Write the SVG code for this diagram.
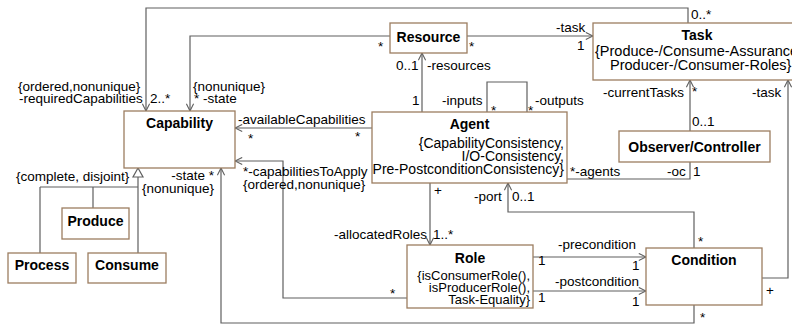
<svg xmlns="http://www.w3.org/2000/svg" width="792" height="325" viewBox="0 0 792 325">
  <style>
    .box { fill: #ffffff; stroke: #9c7d60; stroke-width: 1.3; }
    .title { font-family: "Liberation Sans", Arial, sans-serif; font-size: 14px; font-weight: bold; fill: #000; text-anchor: middle; }
    .cons { font-family: "Liberation Sans", Arial, sans-serif; font-size: 13px; fill: #000; text-anchor: end; }
    .lbl { font-family: "Liberation Sans", Arial, sans-serif; font-size: 13.5px; fill: #000; }
    .end { text-anchor: end; }
    .conn { fill: none; stroke: #5f5f5f; stroke-width: 1.2; }
  </style>
  <defs>
    <marker id="open" viewBox="0 0 10 10" refX="9" refY="5" markerWidth="9" markerHeight="9" markerUnits="userSpaceOnUse" orient="auto">
      <path d="M1,1 L9,5 L1,9" fill="none" stroke="#5f5f5f" stroke-width="1.2"/>
    </marker>
  </defs>
  <rect width="792" height="325" fill="#ffffff"/>

  <!-- associations -->
  <g id="connectors">
    <polyline class="conn" points="688,23 688,8 146,8 146,111" marker-end="url(#open)"/>
    <polyline class="conn" points="390,36 190,36 190,111" marker-end="url(#open)"/>
    <polyline class="conn" points="467,36 593,36" marker-end="url(#open)"/>
    <polyline class="conn" points="422,112 422,53" marker-end="url(#open)"/>
    <polyline class="conn" points="487,112 487,82 527,82 527,112"/>
    <polyline class="conn" points="372,128 235,128" marker-end="url(#open)"/>
    <polyline class="conn" points="407,298 283,298 283,161 235,161" marker-end="url(#open)"/>
    <polyline class="conn" points="694,305 694,323 221,323 221,168" marker-end="url(#open)"/>
    <polyline class="conn" points="430,183 430,245" marker-end="url(#open)"/>
    <polyline class="conn" points="694,248 694,212 508,212 508,183" marker-end="url(#open)"/>
    <polyline class="conn" points="533,257 646,257" marker-end="url(#open)"/>
    <polyline class="conn" points="533,291 646,291" marker-end="url(#open)"/>
    <polyline class="conn" points="762,278 788,278 788,80" marker-end="url(#open)"/>
    <polyline class="conn" points="690,131 690,80" marker-end="url(#open)"/>
    <polyline class="conn" points="567,179 690,179 690,162"/>
    <!-- generalization tree -->
    <path class="conn" d="M138,177 V187 M40,187 H138 M40,187 V253 M93,187 V208 M138,187 V253"/>
    <polygon points="138,168 133,177 143,177" fill="#ffffff" stroke="#5f5f5f" stroke-width="1.2"/>
  </g>

  <!-- association labels -->
  <g id="labels">
    <text class="lbl" x="18" y="91">{ordered,nonunique}</text>
    <text class="lbl" x="19" y="103">-requiredCapabilities</text>
    <text class="lbl" x="150" y="103">2..*</text>
    <text class="lbl" x="193" y="91">{nonunique}</text>
    <text class="lbl" x="194" y="103">* -state</text>
    <text class="lbl" x="691" y="19">0..*</text>
    <text class="lbl" x="378" y="51">*</text>
    <text class="lbl" x="469" y="51">*</text>
    <text class="lbl" x="556" y="32">-task</text>
    <text class="lbl" x="577" y="50">1</text>
    <text class="lbl" x="396" y="70">0..1</text>
    <text class="lbl" x="427" y="70">-resources</text>
    <text class="lbl" x="412" y="105">1</text>
    <text class="lbl" x="442" y="105">-inputs</text>
    <text class="lbl" x="491" y="115">*</text>
    <text class="lbl" x="528" y="115">*</text>
    <text class="lbl" x="535" y="105">-outputs</text>
    <text class="lbl" x="238" y="124">-availableCapabilities</text>
    <text class="lbl" x="248" y="143">*</text>
    <text class="lbl" x="355" y="141">*</text>
    <text class="lbl" x="243" y="176">*-capabilitiesToApply</text>
    <text class="lbl" x="243" y="189">{ordered,nonunique}</text>
    <text class="lbl" x="16" y="181">{complete, disjoint}</text>
    <text class="lbl end" x="214" y="180">-state *</text>
    <text class="lbl end" x="214" y="193">{nonunique}</text>
    <text class="lbl" x="434" y="195">+</text>
    <text class="lbl" x="474" y="201">-port</text>
    <text class="lbl" x="512" y="201">0..1</text>
    <text class="lbl" x="570" y="176">*-agents</text>
    <text class="lbl" x="667" y="176">-oc</text>
    <text class="lbl" x="693" y="176">1</text>
    <text class="lbl" x="692" y="126">0..1</text>
    <text class="lbl end" x="684" y="97">-currentTasks</text>
    <text class="lbl" x="692" y="96">*</text>
    <text class="lbl" x="752" y="97">-task</text>
    <text class="lbl end" x="427" y="239">-allocatedRoles</text>
    <text class="lbl" x="433" y="239">1..*</text>
    <text class="lbl" x="390" y="298">*</text>
    <text class="lbl" x="558" y="249">-precondition</text>
    <text class="lbl" x="538" y="265">1</text>
    <text class="lbl" x="632" y="270">1</text>
    <text class="lbl" x="555" y="286">-postcondition</text>
    <text class="lbl" x="538" y="302">1</text>
    <text class="lbl" x="632" y="306">1</text>
    <text class="lbl" x="698" y="246">*</text>
    <text class="lbl" x="766" y="295">+</text>
    <text class="lbl" x="700" y="322">*</text>
  </g>

  <!-- classes -->
  <g id="capability">
    <rect class="box" x="124" y="111" width="111" height="57"/>
    <text class="title" x="179.5" y="128">Capability</text>
  </g>
  <g id="resource">
    <rect class="box" x="390" y="23" width="77" height="30"/>
    <text class="title" x="428.5" y="42">Resource</text>
  </g>
  <g id="task">
    <rect class="box" x="593" y="23" width="210" height="57"/>
    <text class="title" x="697" y="40">Task</text>
    <text class="lbl" x="595" y="56" style="font-size:14.5px">{Produce-/Consume-Assurance,</text>
    <text class="lbl" x="610" y="70" style="font-size:14.5px">Producer-/Consumer-Roles}</text>
  </g>
  <g id="agent">
    <rect class="box" x="372" y="112" width="195" height="71"/>
    <text class="title" x="469.5" y="129">Agent</text>
    <text class="cons" x="564" y="148" style="font-size:14px">{CapabilityConsistency,</text>
    <text class="cons" x="564" y="161" style="font-size:14px">I/O-Consistency,</text>
    <text class="cons" x="564" y="174" style="font-size:14px">Pre-PostconditionConsistency}</text>
  </g>
  <g id="observer-controller">
    <rect class="box" x="619" y="131" width="151" height="31"/>
    <text class="title" x="694.5" y="152">Observer/Controller</text>
  </g>
  <g id="role">
    <rect class="box" x="407" y="245" width="126" height="63"/>
    <text class="title" x="470" y="263">Role</text>
    <text class="cons" x="530" y="280">{isConsumerRole(),</text>
    <text class="cons" x="530" y="292">isProducerRole(),</text>
    <text class="cons" x="530" y="304">Task-Equality}</text>
  </g>
  <g id="condition">
    <rect class="box" x="646" y="248" width="116" height="57"/>
    <text class="title" x="704" y="265">Condition</text>
  </g>
  <g id="produce">
    <rect class="box" x="62" y="208" width="67" height="31"/>
    <text class="title" x="95.5" y="226">Produce</text>
  </g>
  <g id="process">
    <rect class="box" x="8" y="253" width="68" height="30"/>
    <text class="title" x="42" y="270">Process</text>
  </g>
  <g id="consume">
    <rect class="box" x="88" y="253" width="78" height="30"/>
    <text class="title" x="127" y="270">Consume</text>
  </g>
</svg>
